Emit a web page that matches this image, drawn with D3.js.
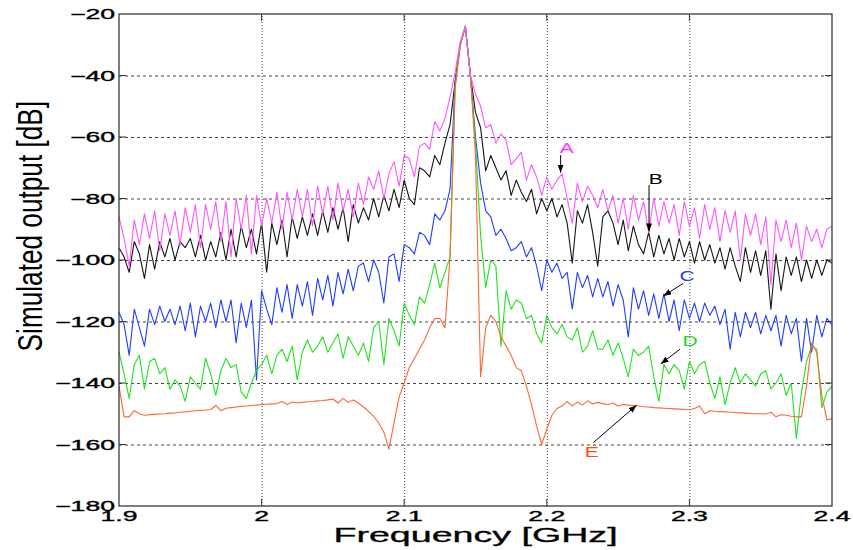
<!DOCTYPE html>
<html>
<head>
<meta charset="utf-8">
<script src="https://cdn.jsdelivr.net/npm/d3@7"></script>
<style>
  body { margin: 0; background: #fff; }
  text { font-family: "Liberation Sans", Arial, Helvetica, sans-serif; }
</style>
</head>
<body>
<svg id="chart" width="853" height="550"></svg>
<script>
// Frequency sweep of the simulation: 141 samples from 1.9 to 2.4 GHz
const freqGHz = d3.range(141).map(i => 1.9 + i * 0.5 / 140);

// Simulated output [dB], one value per sample
const curveA = [
  -86, -93, -102, -87, -95, -85, -93, -84, -97, -85,
  -92, -84, -95, -83, -91, -82, -96, -82, -90, -81,
  -94, -81, -99, -80, -90, -79, -98, -79, -89, -80,
  -88, -78, -90, -78, -87, -77, -86, -77, -89, -76,
  -85, -76, -87, -75, -84, -77, -86, -75, -82, -73,
  -77, -71, -80, -72, -68, -76, -66, -67, -73, -63,
  -62, -64, -55, -58, -54, -47, -39, -29, -24, -40,
  -46, -50, -57, -56, -62, -59, -61, -69, -67, -65,
  -74, -69, -73, -79, -73, -77, -74, -72, -80, -88,
  -75, -81, -76, -79, -83, -77, -84, -79, -88, -80,
  -90, -79, -87, -81, -91, -80, -89, -81, -88, -82,
  -92, -81, -89, -83, -93, -82, -90, -83, -94, -84,
  -91, -84, -100, -85, -92, -85, -95, -86, -108, -87,
  -94, -87, -96, -88, -100, -89, -94, -90, -96, -90, -89
];
const curveB = [
  -96, -99, -104, -94, -98, -106, -95, -103, -94, -99,
  -93, -100, -94, -96, -93, -99, -92, -100, -94, -99,
  -91, -100, -90, -99, -89, -96, -90, -98, -88, -104,
  -88, -95, -87, -99, -86, -93, -86, -92, -85, -92,
  -84, -91, -83, -90, -83, -94, -82, -88, -83, -87,
  -80, -86, -79, -84, -77, -83, -74, -80, -82, -70,
  -71, -73, -66, -69, -62, -56, -42, -30, -24, -40,
  -52, -57, -71, -66, -70, -74, -71, -79, -74, -78,
  -81, -77, -85, -80, -84, -80, -86, -82, -88, -101,
  -84, -88, -82, -91, -102, -86, -84, -88, -95, -87,
  -97, -89, -95, -98, -91, -99, -92, -98, -93, -100,
  -93, -99, -94, -101, -94, -100, -95, -101, -96, -103,
  -96, -102, -107, -96, -104, -97, -105, -97, -116, -98,
  -110, -99, -105, -99, -107, -100, -106, -100, -105, -100, -101
];
const curveC = [
  -117, -121, -131, -116, -122, -128, -116, -121, -115, -120,
  -116, -121, -115, -123, -114, -125, -115, -120, -114, -122,
  -113, -120, -113, -127, -114, -122, -113, -139, -110, -116,
  -121, -109, -117, -108, -119, -108, -115, -107, -118, -106,
  -113, -105, -115, -104, -111, -103, -110, -102, -101, -107,
  -100, -104, -114, -99, -98, -107, -95, -96, -98, -91,
  -92, -95, -85, -87, -84, -77, -42, -30, -24, -40,
  -60, -75, -84, -86, -92, -90, -93, -97, -96, -94,
  -99, -96, -102, -110, -100, -104, -101, -106, -104, -116,
  -104, -109, -105, -112, -106, -112, -107, -115, -108, -113,
  -125, -109, -116, -110, -118, -111, -119, -111, -120, -113,
  -123, -113, -119, -114, -120, -114, -118, -115, -121, -116,
  -129, -117, -125, -117, -122, -117, -124, -118, -123, -118,
  -128, -118, -124, -119, -133, -119, -130, -118, -125, -119, -121
];
const curveD = [
  -130, -137, -145, -134, -131, -142, -133, -132, -137, -135,
  -142, -139, -141, -146, -138, -140, -142, -132, -137, -144,
  -136, -132, -135, -134, -143, -145, -140, -136, -134, -131,
  -137, -131, -129, -133, -128, -139, -130, -126, -130, -128,
  -125, -130, -127, -124, -132, -125, -128, -131, -127, -133,
  -122, -120, -134, -119, -123, -128, -114, -118, -121, -112,
  -114, -108, -101, -109, -104, -99, -44, -30, -24, -40,
  -62, -92, -109, -100, -102, -128, -110, -116, -113, -114,
  -119, -118, -124, -127, -118, -122, -124, -121, -125, -126,
  -122, -130, -128, -123, -129, -129, -126, -131, -127, -132,
  -138, -129, -131, -130, -128, -138, -146, -134, -137, -134,
  -136, -142, -133, -137, -134, -133, -140, -145, -138, -147,
  -140, -135, -140, -137, -139, -141, -137, -136, -142, -140,
  -137, -144, -140, -158, -143, -133, -128, -129, -148, -143, -141
];
const curveE = [
  -141, -151, -151, -149, -150, -150.5, -150.3, -150.2, -150.1, -150,
  -149.8, -149.7, -149.5, -149.4, -149.2, -149, -148.9, -148.8, -148.6, -147.3,
  -149, -148.2, -148, -147.8, -147.6, -147.5, -147.3, -147.2, -147, -146.9,
  -146.8, -146.7, -146, -147, -146.2, -146.4, -146.3, -146.1, -146, -145.8,
  -145.7, -145.5, -145.2, -146.5, -145, -146.3, -145.5, -146.5, -147.8, -149.2,
  -150.8, -153, -156, -161.5, -153, -144.5, -140, -135, -132, -129,
  -126, -122, -119, -119, -122, -99, -44, -30, -24, -40,
  -66, -138, -122, -118, -120, -125, -128, -131, -135, -136,
  -141, -147, -154, -160, -155, -150.5, -148.3, -147.5, -146, -147.5,
  -146.2, -147.2, -145.8, -146.8, -146.3, -146.7, -147, -146.5, -147.5, -147,
  -147.2, -147.3, -147.5, -147.7, -147.8, -148, -148.1, -148.2, -148.3, -148.4,
  -148.5, -148.6, -148.7, -148.3, -147.5, -150, -149, -149.2, -149.3, -149.4,
  -149.5, -149.6, -149.7, -149.8, -149.9, -150, -150, -150.1, -149.5, -151,
  -150.3, -150.5, -150.8, -151, -151, -141, -127, -130, -144, -152, -151.6
];

// Axis ticks
const xTicks = [1.9, 2.0, 2.1, 2.2, 2.3, 2.4];
const xTickLabels = ["1.9", "2", "2.1", "2.2", "2.3", "2.4"];
const yTicks = [-180, -160, -140, -120, -100, -80, -60, -40, -20];
const yTickLabels = ["\u2212180", "\u2212160", "\u2212140", "\u2212120", "\u2212100", "\u221280", "\u221260", "\u221240", "\u221220"];

// Curve letters with their arrows, in data units (GHz, dB)
const notes = [
  {name: "A", f: 2.2140, db: -65.2,  from: [2.2097, -65.9],  to: [2.2097, -71.6]},
  {name: "B", f: 2.2764, db: -75.3,  from: [2.2717, -75.6],  to: [2.2717, -90.7]},
  {name: "C", f: 2.2983, db: -106.7, from: [2.2957, -107.6], to: [2.2817, -111.7]},
  {name: "D", f: 2.3004, db: -128.0, from: [2.2934, -129.0], to: [2.2799, -133.8]},
  {name: "E", f: 2.2315, db: -164.1, from: [2.2326, -159.4], to: [2.2630, -147.2]}
];

const series = [
  {name: "B", values: curveB},
  {name: "C", values: curveC},
  {name: "D", values: curveD},
  {name: "E", values: curveE},
  {name: "A", values: curveA}
];
const lineColor = {A: "#ff55ff", B: "#151515", C: "#1f3dff", D: "#1fe31f", E: "#ff6633"};
const labelColor = {A: "#ff33ff", B: "#000000", C: "#1f3dff", D: "#1fd81f", E: "#ff4a14"};

const margin = {top: 14, right: 21, bottom: 44, left: 119};
const width = 853 - margin.left - margin.right;
const height = 550 - margin.top - margin.bottom;

const svg = d3.select("#chart");
svg.append("rect").attr("width", 853).attr("height", 550).attr("fill", "#fff");

const g = svg.append("g")
    .attr("transform", `translate(${margin.left}, ${margin.top})`);

const x = d3.scaleLinear().domain([1.9, 2.4]).range([0, width]);
const y = d3.scaleLinear().domain([-180, -20]).range([height, 0]);

// grid: dotted verticals, dashed horizontals
g.append("g")
    .attr("transform", `translate(0, ${height})`)
    .call(d3.axisBottom(x).tickValues(xTicks.slice(1, -1)).tickSize(-height).tickFormat(""))
    .call(a => a.select(".domain").remove())
    .selectAll("line")
    .attr("stroke", "#444")
    .attr("stroke-dasharray", "1,2");

g.append("g")
    .call(d3.axisLeft(y).tickValues(yTicks.slice(1, -1)).tickSize(-width).tickFormat(""))
    .call(a => a.select(".domain").remove())
    .selectAll("line")
    .attr("stroke", "#444")
    .attr("stroke-dasharray", "3,3");

// inward tick marks on all four sides
const tickLen = 7;
const ticks = g.append("g").attr("stroke", "#333").attr("stroke-width", 1);
xTicks.slice(1, -1).forEach(v => {
    ticks.append("line").attr("x1", x(v)).attr("x2", x(v)).attr("y1", height).attr("y2", height - tickLen);
    ticks.append("line").attr("x1", x(v)).attr("x2", x(v)).attr("y1", 0).attr("y2", tickLen);
});
yTicks.slice(1, -1).forEach(v => {
    ticks.append("line").attr("x1", 0).attr("x2", tickLen).attr("y1", y(v)).attr("y2", y(v));
    ticks.append("line").attr("x1", width - tickLen).attr("x2", width).attr("y1", y(v)).attr("y2", y(v));
});

// curves
const line = d3.line()
    .x((d, i) => x(freqGHz[i]))
    .y(d => y(d));

g.selectAll(".curve")
    .data(series).enter()
    .append("path")
    .attr("class", "curve")
    .attr("fill", "none")
    .attr("stroke", d => lineColor[d.name])
    .attr("stroke-width", 1.1)
    .attr("stroke-linejoin", "round")
    .attr("d", d => line(d.values));

// axes box
g.append("rect")
    .attr("width", width)
    .attr("height", height)
    .attr("fill", "none")
    .attr("stroke", "#3a3a3a")
    .attr("stroke-width", 1.3);

// tick labels (the reference text is stretched sideways)
g.selectAll(".ylab")
    .data(yTicks).enter()
    .append("text")
    .attr("class", "ylab")
    .attr("transform", d => `translate(-4, ${y(d) + 5}) scale(1.9, 1)`)
    .attr("text-anchor", "end")
    .attr("font-size", 14)
    .attr("fill", "#000")
    .attr("stroke", "#000")
    .attr("stroke-width", 0.35)
    .text((d, i) => yTickLabels[i]);

g.selectAll(".xlab")
    .data(xTicks).enter()
    .append("text")
    .attr("class", "xlab")
    .attr("transform", d => `translate(${x(d)}, ${height + 15}) scale(1.9, 1)`)
    .attr("text-anchor", "middle")
    .attr("font-size", 14)
    .attr("fill", "#000")
    .attr("stroke", "#000")
    .attr("stroke-width", 0.35)
    .text((d, i) => xTickLabels[i]);

// axis titles
g.append("text")
    .attr("transform", `translate(${width / 2}, ${height + 36}) scale(1.88, 1)`)
    .attr("text-anchor", "middle")
    .attr("font-size", 20)
    .attr("fill", "#000")
    .attr("stroke", "#000")
    .attr("stroke-width", 0.3)
    .text("Frequency [GHz]");

g.append("text")
    .attr("transform", `translate(-77, ${y(-89)}) rotate(-90) scale(1.31, 1.75)`)
    .attr("text-anchor", "middle")
    .attr("font-size", 20)
    .attr("fill", "#000")
    .text("Simulated output [dB]");

// arrows and curve letters
svg.append("defs").append("marker")
    .attr("id", "head")
    .attr("viewBox", "0 0 8 6")
    .attr("refX", 8)
    .attr("refY", 3)
    .attr("markerWidth", 8)
    .attr("markerHeight", 6)
    .attr("markerUnits", "userSpaceOnUse")
    .attr("orient", "auto")
    .append("path")
    .attr("d", "M0,0L8,3L0,6Z")
    .attr("fill", "#000");

g.selectAll(".arrow")
    .data(notes).enter()
    .append("line")
    .attr("class", "arrow")
    .attr("x1", d => x(d.from[0]))
    .attr("y1", d => y(d.from[1]))
    .attr("x2", d => x(d.to[0]))
    .attr("y2", d => y(d.to[1]))
    .attr("stroke", "#000")
    .attr("stroke-width", 1)
    .attr("marker-end", "url(#head)");

g.selectAll(".note")
    .data(notes).enter()
    .append("text")
    .attr("class", "note")
    .attr("transform", d => `translate(${x(d.f)}, ${y(d.db)}) scale(1.5, 1)`)
    .attr("text-anchor", "middle")
    .attr("font-size", 14)
    .attr("fill", d => labelColor[d.name])
    .text(d => d.name);
</script>
</body>
</html>
